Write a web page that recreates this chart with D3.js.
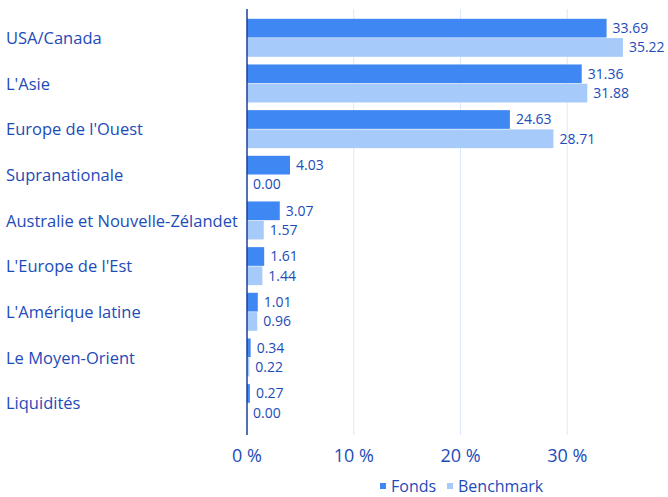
<!DOCTYPE html>
<html>
<head>
<meta charset="utf-8">
<script src="https://cdn.jsdelivr.net/npm/d3@7"></script>
<style>
  body { margin: 0; background: #fff; }
  svg { font-family: "Open Sans", "Noto Sans", sans-serif; }
</style>
</head>
<body>
<svg id="chart" width="668" height="497"></svg>
<script>
// regions and allocation (%)
var regions = ["USA/Canada", "L'Asie", "Europe de l'Ouest", "Supranationale",
    "Australie et Nouvelle-Zélandet", "L'Europe de l'Est", "L'Amérique latine",
    "Le Moyen-Orient", "Liquidités"];
var fonds = [33.69, 31.36, 24.63, 4.03, 3.07, 1.61, 1.01, 0.34, 0.27];
var benchmark = [35.22, 31.88, 28.71, 0.00, 1.57, 1.44, 0.96, 0.22, 0.00];
var ticks = [0, 10, 20, 30];
var seriesNames = ["Fonds", "Benchmark"];
var colors = ["#3f87f2", "#a6cbfb"];

var svg = d3.select("#chart");
var textColor = "#1d4bb8";

var x = d3.scaleLinear().domain([0, 38.6]).range([247, 659]);
var y = d3.scaleBand().domain(regions).range([15, 426]);
var sub = d3.scaleBand().domain(seriesNames).range([3.8, 41.8]).paddingInner(0.03);

// gridlines
svg.append("g").selectAll("line")
    .data(ticks.slice(1))
    .enter()
    .append("line")
    .attr("x1", d => x(d)).attr("x2", d => x(d))
    .attr("y1", 9).attr("y2", 435)
    .style("stroke", "#dce8fb")
    .style("stroke-width", 1);

// tick labels
svg.append("g").selectAll("text")
    .data(ticks)
    .enter()
    .append("text")
    .attr("x", d => x(d))
    .attr("y", 462)
    .attr("text-anchor", "middle")
    .style("font-size", "18px")
    .style("fill", textColor)
    .text(d => d + " %");

// category labels
svg.append("g").selectAll("text")
    .data(regions)
    .enter()
    .append("text")
    .attr("x", 6)
    .attr("y", d => y(d) + y.bandwidth() / 2 + 6)
    .style("font-size", "16.5px")
    .style("fill", textColor)
    .text(d => d);

var rows = regions.map((r, i) => ({region: r, values: [fonds[i], benchmark[i]]}));

var groups = svg.append("g").selectAll("g")
    .data(rows)
    .enter()
    .append("g")
    .attr("transform", d => "translate(0," + y(d.region) + ")");

groups.selectAll("rect")
    .data(d => d.values.map((v, j) => ({name: seriesNames[j], value: v, color: colors[j]})))
    .enter()
    .append("rect")
    .attr("x", x(0))
    .attr("y", d => sub(d.name))
    .attr("width", d => x(d.value) - x(0))
    .attr("height", sub.bandwidth())
    .style("fill", d => d.color);

groups.selectAll("text")
    .data(d => d.values.map((v, j) => ({name: seriesNames[j], value: v})))
    .enter()
    .append("text")
    .attr("x", d => x(d.value) + 6)
    .attr("y", d => sub(d.name) + sub.bandwidth() / 2 + 5)
    .style("font-size", "14px")
    .style("fill", textColor)
    .text(d => d.value.toFixed(2));

// axis line
svg.append("line")
    .attr("x1", x(0)).attr("x2", x(0))
    .attr("y1", 9).attr("y2", 435)
    .style("stroke", "#1a3f9e")
    .style("stroke-width", 1.5);

// legend
var legend = svg.append("g");
var legendX = [380, 447];
seriesNames.forEach(function (n, i) {
    legend.append("rect")
        .attr("x", legendX[i]).attr("y", 483)
        .attr("width", 6).attr("height", 6)
        .style("fill", colors[i]);
    legend.append("text")
        .attr("x", legendX[i] + 11).attr("y", 492)
        .style("font-size", "16px")
        .style("fill", textColor)
        .text(n);
});
</script>
</body>
</html>
